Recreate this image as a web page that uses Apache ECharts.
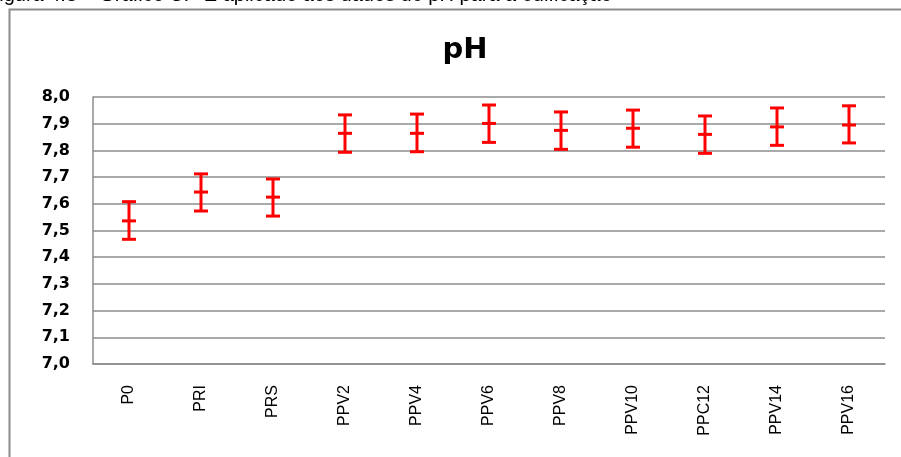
<!DOCTYPE html>
<html>
<head>
<meta charset="utf-8">
<script src="https://cdn.jsdelivr.net/npm/echarts@6/dist/echarts.min.js"></script>
<style>
  html, body { margin: 0; padding: 0; background: #fff; }
  #main { width: 901px; height: 457px; }
</style>
</head>
<body>
<div id="main"></div>
<script>
  // dados
  const categories = ['P0', 'PRI', 'PRS', 'PPV2', 'PPV4', 'PPV6', 'PPV8', 'PPV10', 'PPC12', 'PPV14', 'PPV16']
  const means = [7.536, 7.644, 7.625, 7.864, 7.864, 7.901, 7.875, 7.883, 7.860, 7.888, 7.895]
  const lows = [7.467, 7.573, 7.554, 7.793, 7.795, 7.830, 7.804, 7.812, 7.789, 7.819, 7.828]
  const highs = [7.608, 7.712, 7.693, 7.933, 7.936, 7.970, 7.944, 7.951, 7.929, 7.959, 7.967]

  const seriesData = categories.map(function (c, i) {
    return [i, means[i], lows[i], highs[i]]
  })

  const myChart = echarts.init(document.getElementById('main'))
  const red = '#ff0000'

  function renderBar(params, api) {
    const x = api.value(0)
    const mid = api.coord([x, api.value(1)])
    const lo = api.coord([x, api.value(2)])
    const hi = api.coord([x, api.value(3)])
    const hw = 7
    const st = { stroke: red, lineWidth: 3 }
    return {
      type: 'group',
      children: [
        { type: 'line', shape: { x1: hi[0], y1: hi[1], x2: lo[0], y2: lo[1] }, style: st },
        { type: 'line', shape: { x1: hi[0] - hw, y1: hi[1], x2: hi[0] + hw, y2: hi[1] }, style: st },
        { type: 'line', shape: { x1: lo[0] - hw, y1: lo[1], x2: lo[0] + hw, y2: lo[1] }, style: st },
        { type: 'line', shape: { x1: mid[0] - hw, y1: mid[1], x2: mid[0] + hw, y2: mid[1] }, style: st }
      ]
    }
  }

  const option = {
    backgroundColor: '#fff',
    animation: false,
    title: {
      text: 'pH',
      left: 460,
      textAlign: 'center',
      top: 31,
      textStyle: {
        fontFamily: 'DejaVu Sans',
        fontWeight: 'bold',
        fontSize: 29,
        color: '#000'
      }
    },
    graphic: [
      {
        type: 'text',
        left: -13,
        top: -15,
        style: {
          text: 'Figura 4.8 – Gráfico CP-E aplicado aos dados de pH para a edificação',
          font: '20px "Liberation Sans"',
          fill: '#000'
        }
      },
      {
        type: 'polyline',
        shape: { points: [[9.5, 460], [9.5, 9.5], [905, 9.5]] },
        style: { stroke: '#8c8c8c', lineWidth: 2, fill: null }
      }
    ],
    grid: {
      left: 93,
      right: 16,
      top: 97,
      bottom: 93
    },
    xAxis: {
      type: 'category',
      data: categories,
      axisLine: { lineStyle: { color: '#8c8c8c', width: 1.5 } },
      axisTick: { show: false },
      axisLabel: {
        rotate: 90,
        margin: 21,
        color: '#000',
        fontFamily: 'Liberation Sans',
        fontSize: 16
      }
    },
    yAxis: {
      type: 'value',
      min: 7.0,
      max: 8.0,
      interval: 0.1,
      axisLine: { show: true, lineStyle: { color: '#8c8c8c', width: 1.5 } },
      axisTick: { show: false },
      splitLine: { lineStyle: { color: '#8c8c8c', width: 1.5 } },
      axisLabel: {
        margin: 23,
        color: '#000',
        fontFamily: 'DejaVu Sans',
        fontWeight: 'bold',
        fontSize: 16,
        formatter: function (v) { return v.toFixed(1).replace('.', ',') }
      }
    },
    series: [{
      type: 'custom',
      renderItem: renderBar,
      encode: { x: 0, y: [1, 2, 3] },
      data: seriesData
    }]
  }
  myChart.setOption(option)
</script>
</body>
</html>
